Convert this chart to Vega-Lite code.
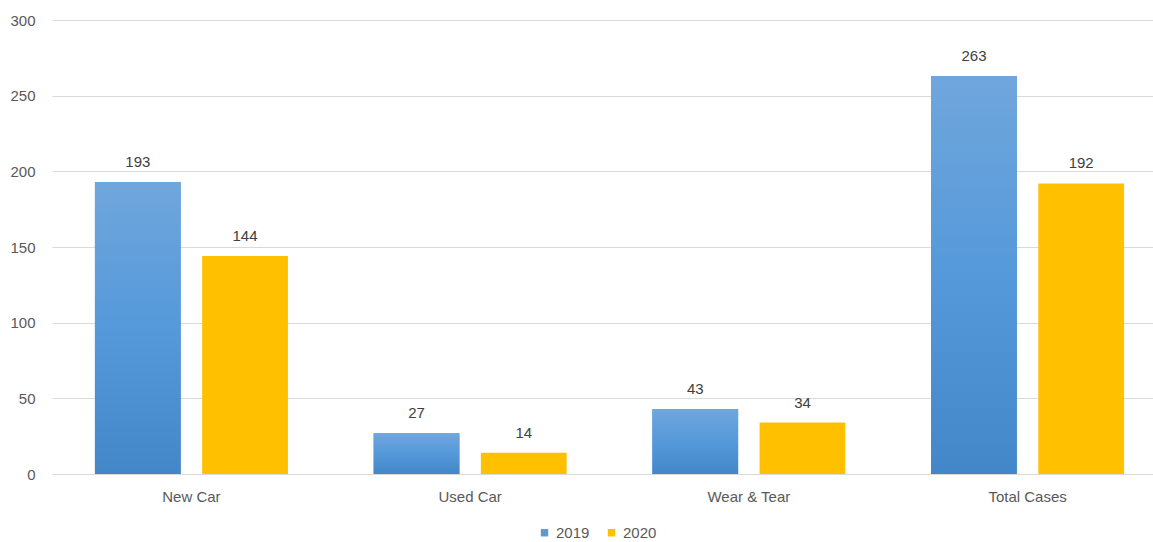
{
  "$schema": "https://vega.github.io/schema/vega-lite/v6.json",
  "width": 1101,
  "height": 454,
  "autosize": {"type": "none"},
  "padding": {"left": 52, "top": 20, "right": 0, "bottom": 68},
  "background": "white",
  "config": {
    "view": {"stroke": null},
    "font": "Liberation Sans",
    "axis": {"labelFont": "Liberation Sans", "labelFontSize": 15, "labelColor": "#595959"},
    "legend": {"labelFont": "Liberation Sans", "labelFontSize": 15, "labelColor": "#595959"}
  },
  "data": {
    "values": [
      {"category": "New Car", "year": "2019", "value": 193},
      {"category": "New Car", "year": "2020", "value": 144},
      {"category": "Used Car", "year": "2019", "value": 27},
      {"category": "Used Car", "year": "2020", "value": 14},
      {"category": "Wear & Tear", "year": "2019", "value": 43},
      {"category": "Wear & Tear", "year": "2020", "value": 34},
      {"category": "Total Cases", "year": "2019", "value": 263},
      {"category": "Total Cases", "year": "2020", "value": 192}
    ]
  },
  "encoding": {
    "x": {
      "field": "category", "type": "nominal", "sort": ["New Car", "Used Car", "Wear & Tear", "Total Cases"],
      "scale": {"range": [0, 1115], "paddingInner": 0.3075, "paddingOuter": 0.154},
      "axis": {"title": null, "labelAngle": 0, "ticks": false, "domainColor": "#D9D9D9", "labelPadding": 15}
    },
    "xOffset": {"field": "year", "type": "nominal", "scale": {"paddingInner": 0.2, "paddingOuter": 0}},
    "y": {
      "field": "value", "type": "quantitative",
      "scale": {"domain": [0, 300]},
      "axis": {"title": null, "values": [0, 50, 100, 150, 200, 250, 300], "domain": false, "ticks": false, "gridColor": "#D9D9D9", "labelPadding": 17}
    }
  },
  "layer": [
    {
      "mark": {"type": "bar"},
      "encoding": {
        "color": {
          "field": "year", "type": "nominal",
          "scale": {"domain": ["2019", "2020"], "range": ["#5B9BD5", "#FFC000"]},
          "legend": {"title": null, "orient": "none", "legendX": 485, "legendY": 505, "direction": "horizontal", "symbolType": "square", "symbolSize": 55, "symbolOpacity": 1, "columnPadding": 14, "labelOffset": 4}
        }
      }
    },
    {
      "transform": [{"filter": "datum.year == '2019'"}],
      "mark": {
        "type": "bar",
        "fill": {"gradient": "linear", "x1": 0, "y1": 0, "x2": 0, "y2": 1, "stops": [{"offset": 0, "color": "#70A6DC"}, {"offset": 0.5, "color": "#5599DA"}, {"offset": 1, "color": "#4487C8"}]}
      },
      "encoding": {}
    },
    {
      "mark": {"type": "text", "baseline": "bottom", "dy": -12, "fontSize": 15, "color": "#404040", "font": "Liberation Sans"},
      "encoding": {"text": {"field": "value", "type": "quantitative"}}
    }
  ]
}
